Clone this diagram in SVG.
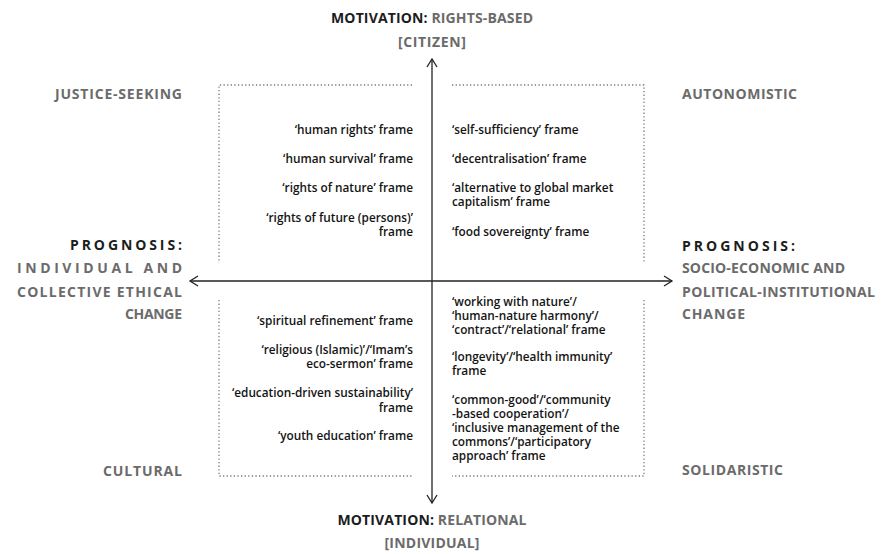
<svg xmlns="http://www.w3.org/2000/svg" width="882" height="554" viewBox="0 0 882 554">
<style>
  .lbl { font-family: "Open Sans", "Liberation Sans", sans-serif; font-weight: bold; font-size: 14px; fill: #6b6b6b; }
  .blk { fill: #1c1c1c; }
  .frm { font-family: "Open Sans", "Liberation Sans", sans-serif; font-weight: 600; font-size: 11.8px; fill: #141414; }
  .r { text-anchor: end; }
  .m { text-anchor: middle; }
  .dot { fill: none; stroke: #7a7a7a; stroke-width: 1.3; stroke-dasharray: 1.3 2.3; }
  .axis { fill: none; stroke: #222; stroke-width: 1.3; }
</style>
<rect width="882" height="554" fill="#ffffff"/>

<g id="connectors">
  <line class="axis" x1="432" y1="59" x2="432" y2="503"/>
  <line class="axis" x1="190" y1="281" x2="672" y2="281"/>
  <polyline class="axis" points="427,67 432,59 437,67"/>
  <polyline class="axis" points="427,495 432,503 437,495"/>
  <polyline class="axis" points="198,276 190,281 198,286"/>
  <polyline class="axis" points="664,276 672,281 664,286"/>
</g>

<g id="boxes">
  <polyline class="dot" points="412,85 219,85 219,263"/>
  <polyline class="dot" points="452,85 644,85 644,263"/>
  <polyline class="dot" points="219,300 219,476 412,476"/>
  <polyline class="dot" points="644,300 644,476 452,476"/>
</g>

<g id="motivation-top">
  <text class="lbl m" x="432" y="23" textLength="202" lengthAdjust="spacing"><tspan class="blk">MOTIVATION:</tspan> RIGHTS-BASED</text>
  <text class="lbl m" x="432" y="47" textLength="68" lengthAdjust="spacing">[CITIZEN]</text>
</g>

<g id="motivation-bottom">
  <text class="lbl m" x="432" y="525" textLength="189" lengthAdjust="spacing"><tspan class="blk">MOTIVATION:</tspan> RELATIONAL</text>
  <text class="lbl m" x="432" y="548" textLength="95" lengthAdjust="spacing">[INDIVIDUAL]</text>
</g>

<g id="prognosis-left">
  <text class="lbl blk r" x="182" y="250" textLength="112" lengthAdjust="spacing">PROGNOSIS:</text>
  <text class="lbl r" x="182" y="273" textLength="165" lengthAdjust="spacing">INDIVIDUAL AND</text>
  <text class="lbl r" x="182" y="297" textLength="165" lengthAdjust="spacing">COLLECTIVE ETHICAL</text>
  <text class="lbl r" x="182" y="319" textLength="57" lengthAdjust="spacing">CHANGE</text>
</g>

<g id="prognosis-right">
  <text class="lbl blk" x="682" y="251" textLength="113" lengthAdjust="spacing">PROGNOSIS:</text>
  <text class="lbl" x="682" y="273" textLength="163" lengthAdjust="spacing">SOCIO-ECONOMIC AND</text>
  <text class="lbl" x="682" y="297" textLength="193" lengthAdjust="spacing">POLITICAL-INSTITUTIONAL</text>
  <text class="lbl" x="682" y="319" textLength="63" lengthAdjust="spacing">CHANGE</text>
</g>

<g id="justice-seeking">
  <text class="lbl r" x="182" y="99" textLength="127" lengthAdjust="spacing">JUSTICE-SEEKING</text>
  <text class="frm r" x="413" y="134">‘human rights’ frame</text>
  <text class="frm r" x="413" y="163">‘human survival’ frame</text>
  <text class="frm r" x="413" y="192">‘rights of nature’ frame</text>
  <text class="frm r" x="413" y="222">‘rights of future (persons)’</text>
  <text class="frm r" x="413" y="236">frame</text>
</g>

<g id="autonomistic">
  <text class="lbl" x="682" y="99" textLength="115" lengthAdjust="spacing">AUTONOMISTIC</text>
  <text class="frm" x="452" y="134">‘self-sufficiency’ frame</text>
  <text class="frm" x="452" y="163">‘decentralisation’ frame</text>
  <text class="frm" x="452" y="192">‘alternative to global market</text>
  <text class="frm" x="452" y="206">capitalism’ frame</text>
  <text class="frm" x="452" y="236">‘food sovereignty’ frame</text>
</g>

<g id="cultural">
  <text class="lbl r" x="182" y="476" textLength="79" lengthAdjust="spacing">CULTURAL</text>
  <text class="frm r" x="413" y="325">‘spiritual refinement’ frame</text>
  <text class="frm r" x="413" y="354">‘religious (Islamic)’/‘Imam’s</text>
  <text class="frm r" x="413" y="368">eco-sermon’ frame</text>
  <text class="frm r" x="413" y="397">‘education-driven sustainability’</text>
  <text class="frm r" x="413" y="412">frame</text>
  <text class="frm r" x="413" y="440">‘youth education’ frame</text>
</g>

<g id="solidaristic">
  <text class="lbl" x="682" y="475" textLength="101" lengthAdjust="spacing">SOLIDARISTIC</text>
  <text class="frm" x="452" y="306">‘working with nature’/</text>
  <text class="frm" x="452" y="320">‘human-nature harmony’/</text>
  <text class="frm" x="452" y="334">‘contract’/‘relational’ frame</text>
  <text class="frm" x="452" y="361">‘longevity’/‘health immunity’</text>
  <text class="frm" x="452" y="375">frame</text>
  <text class="frm" x="452" y="404">‘common-good’/‘community</text>
  <text class="frm" x="452" y="418">-based cooperation’/</text>
  <text class="frm" x="452" y="432">‘inclusive management of the</text>
  <text class="frm" x="452" y="446">commons’/‘participatory</text>
  <text class="frm" x="452" y="460">approach’ frame</text>
</g>
</svg>
